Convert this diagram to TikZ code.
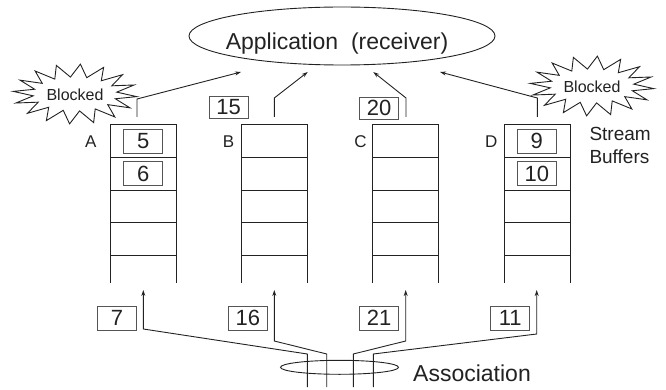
\documentclass[tikz,border=0pt]{standalone}
\usepackage{fontspec}
\setmainfont{Liberation Sans}
\usetikzlibrary{shapes.geometric,arrows.meta}
\definecolor{ink}{HTML}{222222}
\definecolor{boxc}{HTML}{555555}
\begin{document}
\begin{tikzpicture}[x=1pt,y=-1pt,
  ln/.style={line width=0.9pt, draw=ink},
  arr/.style={ln, -{Stealth[length=6pt,width=4pt]}},
  numbox/.style={draw=boxc, line width=0.9pt, minimum width=39pt, minimum height=24pt, inner sep=0pt, text=ink, font=\fontsize{22}{22}\selectfont},
  lbl/.style={font=\fontsize{17}{17}\selectfont, inner sep=0pt, text=ink},
  blk/.style={text=ink, font=\fontsize{16}{16}\selectfont, inner sep=0pt},
  starline/.style={ln, line join=miter},
]
\useasboundingbox (0,0) rectangle (666,390);

% application
\node[ellipse, ln, minimum width=306pt, minimum height=58pt, inner sep=0pt] (app) at (342,36) {};
\node[anchor=base, inner sep=0pt, text=ink, font=\fontsize{23}{23}\selectfont] (apptxt) at (337,49.5) {Application\ \ (receiver)};

% buffers
\foreach \x/\n in {110/A,241.7/B,372.7/C,504/D}{
  \draw[ln] (\x,282.5) -- (\x,124.7) -- (\x+66,124.7) -- (\x+66,282.5);
  \foreach \y in {157.4,190.1,222.8,255.5}{
    \draw[ln] (\x,\y) -- (\x+66,\y);
  }
}
\node[lbl, anchor=base] (lA) at (90.8,147.3) {A};
\node[lbl, anchor=base] (lB) at (228.5,147.3) {B};
\node[lbl, anchor=base] (lC) at (360.5,147.3) {C};
\node[lbl, anchor=base] (lD) at (491.3,147.3) {D};

\node[numbox] (n5) at (143.3,141.2) {5};
\node[numbox] (n6) at (143.3,173.5) {6};
\node[numbox] (n9) at (536.8,141.2) {9};
\node[numbox] (n10) at (536.8,173.5) {10};

\node[anchor=base west, inner sep=0pt, text=ink, font=\fontsize{19}{23}\selectfont, align=left] (sb) at (589.3,164) {Stream\\Buffers};

% blocked stars
\foreach \cx/\cy in {75/94, 592/86}{
  \draw[starline, shift={(\cx,\cy)}] plot[samples=33, domain=0:32, variable=\k]
    ({(mod(round(\k),2)==0 ? 62 : 42)*cos(\k*360/32+5)}, {(mod(round(\k),2)==0 ? 30 : 17)*sin(\k*360/32+5)}) -- cycle;
}
\node[blk] (bA) at (75,95) {Blocked};
\node[blk] (bD) at (592,87) {Blocked};

% top numbers
\node[numbox, minimum height=22pt] (n15) at (228.7,107.5) {15};
\node[numbox, minimum height=22pt] (n20) at (379,108) {20};

% top paths
\coordinate (a1) at (137,117);   \coordinate (a2) at (137,99);    \coordinate (a3) at (241,72);
\coordinate (b1) at (274.3,117); \coordinate (b2) at (274.3,98);  \coordinate (b3) at (307.7,72);
\coordinate (c1) at (406,117);   \coordinate (c2) at (406,98);    \coordinate (c3) at (373.3,72);
\coordinate (d1) at (537.3,117); \coordinate (d2) at (537.3,98);  \coordinate (d3) at (440,72);
\draw[arr] (a1) -- (a2) -- (a3);
\draw[arr] (b1) -- (b2) -- (b3);
\draw[arr] (c1) -- (c2) -- (c3);
\draw[arr] (d1) -- (d2) -- (d3);

% bottom numbers
\node[numbox, minimum height=23.5pt] (n7) at (117,318.3) {7};
\node[numbox, minimum height=23.5pt] (n16) at (247.8,318.3) {16};
\node[numbox, minimum height=23.5pt] (n21) at (379.2,318.3) {21};
\node[numbox, minimum height=23.5pt] (n11) at (510.3,318.3) {11};

% association
\node[ellipse, ln, minimum width=118pt, minimum height=14pt, inner sep=0pt] (assoc) at (339.5,367.3) {};
\node[anchor=base west, inner sep=0pt, text=ink, font=\fontsize{23}{23}\selectfont] (assoctxt) at (413,381.5) {Association};

% bottom paths
\coordinate (p1) at (307.3,387); \coordinate (p2) at (307.3,354); \coordinate (p3) at (143.3,329); \coordinate (p4) at (143.3,290);
\coordinate (q1) at (326.7,387); \coordinate (q2) at (326.7,354); \coordinate (q3) at (274.3,341); \coordinate (q4) at (274.3,290);
\coordinate (r1) at (353.3,387); \coordinate (r2) at (353.3,354); \coordinate (r3) at (405.7,341); \coordinate (r4) at (405.7,290);
\coordinate (s1) at (373.3,387); \coordinate (s2) at (373.3,354); \coordinate (s3) at (536.7,334); \coordinate (s4) at (536.7,290);
\draw[arr] (p1) -- (p2) -- (p3) -- (p4);
\draw[arr] (q1) -- (q2) -- (q3) -- (q4);
\draw[arr] (r1) -- (r2) -- (r3) -- (r4);
\draw[arr] (s1) -- (s2) -- (s3) -- (s4);
\end{tikzpicture}
\end{document}
